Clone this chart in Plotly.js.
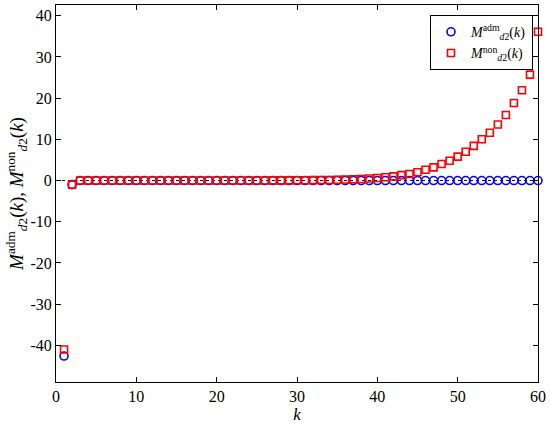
<!DOCTYPE html>
<html>
<head>
<meta charset="utf-8">
<script src="https://cdn.plot.ly/plotly-3.0.1.min.js"></script>
<style>
html,body{margin:0;padding:0;background:#fff;}
#chart{width:550px;height:425px;}
#chart .xtick text, #chart .ytick text { font-size: 16px !important; font-family: "Liberation Serif", "DejaVu Serif", serif !important; }
</style>
</head>
<body>
<div id="chart"></div>
<script>
const k = [];
for (let i = 1; i <= 60; i++) k.push(i);

// M_d2^adm(k), k = 1..60
const admValues = [
  -42.6, -1.0, 0, 0, 0, 0, 0, 0, 0, 0,
  0, 0, 0, 0, 0, 0, 0, 0, 0, 0,
  0, 0, 0, 0, 0, 0, 0, 0, 0, 0,
  0, 0, 0, 0, 0, 0, 0, 0, 0, 0,
  0, 0, 0, 0, 0, 0, 0, 0, 0, 0,
  0, 0, 0, 0, 0, 0, 0, 0, 0, 0];

// M_d2^non(k), k = 1..60
const nonValues = [
  -41.0, -1.0, 0.0, 0.0, 0.0, 0.0, 0.0, 0.0, 0.0, 0.0,
  0.0, 0.0, 0.0, 0.0, 0.0, 0.0, 0.0, 0.0, 0.0, 0.0,
  0.01, 0.01, 0.01, 0.02, 0.02, 0.02, 0.03, 0.03, 0.04, 0.05,
  0.07, 0.09, 0.11, 0.14, 0.18, 0.23, 0.3, 0.38, 0.48, 0.6,
  0.8, 1.0, 1.3, 1.6, 2.0, 2.6, 3.2, 4.0, 4.8, 5.8,
  7.0, 8.4, 10.0, 11.6, 13.6, 15.9, 18.8, 21.9, 25.7, 36.1];

const zeroLineX = [0, 60];
const zeroLineY = [0, 0];

const xTicks = [0, 10, 20, 30, 40, 50, 60];
const xTickLabels = ['0', '10', '20', '30', '40', '50', '60'];
const yTicks = [-40, -30, -20, -10, 0, 10, 20, 30, 40];
const yTickLabels = ['-40', '-30', '-20', '-10', '0', '10', '20', '30', '40'];

const serif = '"Liberation Serif", "DejaVu Serif", serif';

const traces = [
  {x: zeroLineX, y: zeroLineY, mode: 'lines', showlegend: false, hoverinfo: 'skip',
   line: {color: '#000', width: 1, dash: 'dot'}},
  {x: k, y: admValues, mode: 'markers', name: '<i>M</i><sup>adm</sup><sub><i>d</i>2</sub>(<i>k</i>)',
   cliponaxis: false,
   marker: {symbol: 'circle-open', size: 8, color: '#0000ff', line: {width: 1.6, color: '#0000ff'}}},
  {x: k, y: nonValues, mode: 'markers', name: '<i>M</i><sup>non</sup><sub><i>d</i>2</sub>(<i>k</i>)',
   cliponaxis: false,
   marker: {symbol: 'square-open', size: 7, color: '#ff0000', line: {width: 1.6, color: '#ff0000'}}}
];

const layout = {
  width: 550, height: 425,
  margin: {l: 56, r: 12, t: 5, b: 43},
  paper_bgcolor: '#fff', plot_bgcolor: '#fff',
  font: {family: serif, size: 14, color: '#000'},
  showlegend: true,
  legend: {x: 0.9896, xanchor: 'right', y: 0.973, yanchor: 'top',
           bordercolor: '#000', borderwidth: 1, bgcolor: '#fff',
           font: {family: serif, size: 14}, itemwidth: 30, tracegroupgap: 0},
  xaxis: {range: [0, 60], tickmode: 'array', tickvals: xTicks, ticktext: xTickLabels,
          ticks: 'inside', ticklen: 5, tickwidth: 1, tickcolor: '#000',
          tickfont: {family: serif, size: 16, color: '#000'},
          showline: true, linecolor: '#000', linewidth: 1, mirror: 'ticks',
          showgrid: false, zeroline: false,
          title: {text: '<i>k</i>', font: {family: serif, size: 17}, standoff: 2}},
  yaxis: {range: [-48.9, 42.6], tickmode: 'array', tickvals: yTicks, ticktext: yTickLabels,
          ticks: 'inside', ticklen: 5, tickwidth: 1, tickcolor: '#000',
          tickfont: {family: serif, size: 16, color: '#000'},
          showline: true, linecolor: '#000', linewidth: 1, mirror: 'ticks',
          showgrid: false, zeroline: false,
          title: {text: '<i>M</i><sup>adm</sup><sub><i>d</i>2</sub>(<i>k</i>), <i>M</i><sup>non</sup><sub><i>d</i>2</sub>(<i>k</i>)',
                  font: {family: serif, size: 19}, standoff: 0}}
};

Plotly.newPlot('chart', traces, layout, {displayModeBar: false});
</script>
</body>
</html>
